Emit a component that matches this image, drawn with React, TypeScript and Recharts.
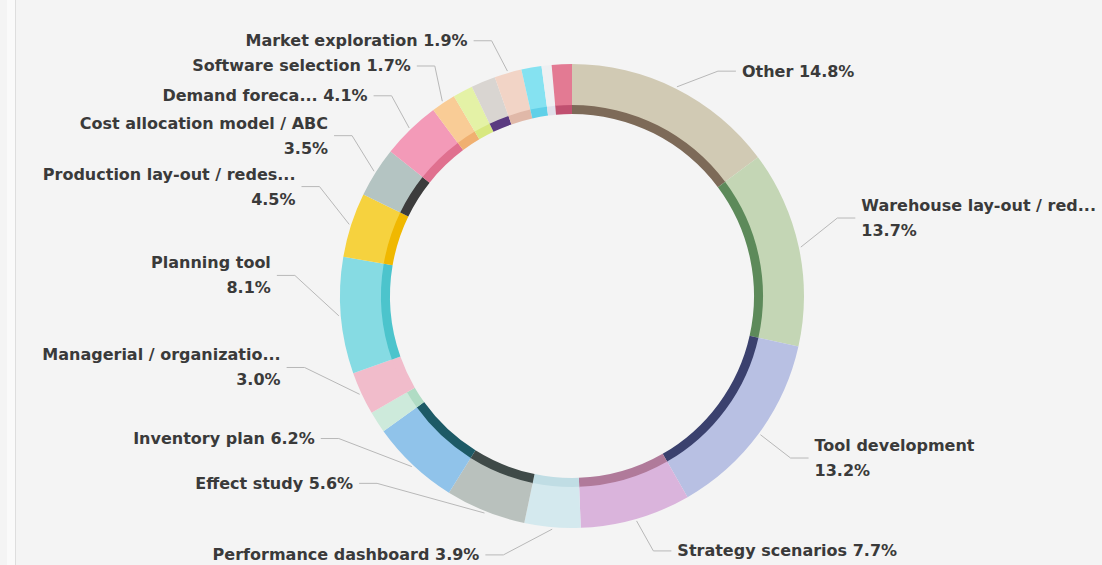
import React from "react";
import { PieChart, Pie, Cell } from "recharts";

// slices in clockwise order from 12 o'clock
const names = [
  "Other",
  "Warehouse lay-out / redesign",
  "Tool development",
  "Strategy scenarios",
  "Performance dashboard",
  "Effect study",
  "Inventory plan",
  "Process analysis",
  "Managerial / organizational",
  "Planning tool",
  "Production lay-out / redesign",
  "Cost allocation model / ABC",
  "Demand forecast",
  "Software selection",
  "Capacity study",
  "Route planning",
  "Market exploration",
  "Data analysis",
  "Training",
  "Benchmark",
];
const values = [
  14.8, 13.7, 13.2, 7.7, 3.9, 5.6, 6.2, 1.5, 3.0, 8.1, 4.5, 3.5, 4.1, 1.7, 1.4,
  1.7, 1.9, 1.4, 0.7, 1.4,
];
// text shown next to each slice ("" = label hidden)
const labelTexts = [
  "Other",
  "Warehouse lay-out / red...",
  "Tool development",
  "Strategy scenarios",
  "Performance dashboard",
  "Effect study",
  "Inventory plan",
  "",
  "Managerial / organizatio...",
  "Planning tool",
  "Production lay-out / redes...",
  "Cost allocation model / ABC",
  "Demand foreca...",
  "Software selection",
  "",
  "",
  "Market exploration",
  "",
  "",
  "",
];

const outerColors = [
  "#d1cab4", "#c4d6b5", "#b8c0e3", "#dab4dc", "#d4e9ee", "#b9c1bd", "#90c3ea",
  "#cdeadb", "#f1bccb", "#86dbe3", "#f6d23e", "#b4c4c2", "#f39ab8", "#f9cc96",
  "#e4f2a6", "#d9d5d1", "#f2d4c6", "#85e2f1", "#eef0f2", "#e37a93",
];
const innerColors = [
  "#7d6a58", "#5d8a5a", "#3b416e", "#b07a9a", "#c0dde4", "#3f4a48", "#1d5a66",
  "#b0dcc4", "#f1bccb", "#4cc4cc", "#f0b800", "#3c3c3c", "#e0708f", "#f0b070",
  "#d8e880", "#5a3a80", "#e0b8a8", "#60d0e8", "#e0e0ea", "#c05070",
];

const wrapped = new Set([1, 2, 8, 9, 10, 11]);
// how far (deg, clockwise) each label is pushed off its slice's mid angle
const labelNudge: Record<number, number> = {
  0: 7.6, 1: -4.6, 2: 0.2, 3: -4.4, 4: 13, 5: 24.5, 6: 15.2, 8: 9.6, 9: 9.2,
  10: 5.9, 11: 3.9, 12: 1.5, 13: 1.4, 16: -4.2,
};

const data = names.map((name, i) => ({ name, value: values[i] }));

const RADIAN = Math.PI / 180;
const FONT = "'DejaVu Sans', sans-serif";

function renderLabel(props: any) {
  const { cx, cy, midAngle, outerRadius, index, value } = props;
  const text = labelTexts[index];
  if (!text) return null;
  const cw = 90 - midAngle;
  const la = cw + (labelNudge[index] ?? 0);
  const lx = cx + 302 * Math.sin(la * RADIAN);
  const ly = cy - 272 * Math.cos(la * RADIAN);
  const right = Math.sin(la * RADIAN) > 0;
  const pct = value.toFixed(1) + "%";
  const lines = wrapped.has(index) ? [text, pct] : [text + " " + pct];
  const sx = cx + (outerRadius + 2) * Math.sin(cw * RADIAN);
  const sy = cy - (outerRadius + 2) * Math.cos(cw * RADIAN);
  const ex = lx + (right ? -6 : 6);
  const mx = ex + (right ? -18 : 18);
  const lh = 25;
  const y0 = ly - ((lines.length - 1) * lh) / 2;
  return (
    <g>
      <polyline
        points={`${sx},${sy} ${mx},${ly} ${ex},${ly}`}
        fill="none"
        stroke="#b8b8b8"
        strokeWidth={1}
      />
      {lines.map((l, k) => (
        <text
          key={k}
          x={lx}
          y={y0 + k * lh}
          textAnchor={right ? "start" : "end"}
          dominantBaseline="central"
          fontFamily={FONT}
          fontSize={16}
          fontWeight="bold"
          fill="#3a3a3a"
        >
          {l}
        </text>
      ))}
    </g>
  );
}

export default function App() {
  return (
    <div
      style={{
        position: "fixed",
        left: 0,
        top: 0,
        width: 1102,
        height: 565,
        background: "#f4f4f4",
      }}
    >
      <div
        style={{
          position: "absolute",
          left: 7,
          top: 0,
          width: 8,
          height: 565,
          background: "#fafafa",
          borderRight: "1px solid #dedede",
        }}
      />
      <PieChart width={1102} height={565} style={{ position: "absolute", left: 0, top: 0 }}>
        <Pie
          data={data}
          dataKey="value"
          nameKey="name"
          cx={567}
          cy={291}
          startAngle={90}
          endAngle={-270}
          innerRadius={182}
          outerRadius={192}
          stroke="none"
          isAnimationActive={false}
        >
          {data.map((d, i) => (
            <Cell key={d.name} fill={innerColors[i]} />
          ))}
        </Pie>
        <Pie
          data={data}
          dataKey="value"
          nameKey="name"
          cx={567}
          cy={291}
          startAngle={90}
          endAngle={-270}
          innerRadius={191}
          outerRadius={232}
          stroke="none"
          label={renderLabel}
          labelLine={false}
          isAnimationActive={false}
        >
          {data.map((d, i) => (
            <Cell key={d.name} fill={outerColors[i]} />
          ))}
        </Pie>
      </PieChart>
    </div>
  );
}
